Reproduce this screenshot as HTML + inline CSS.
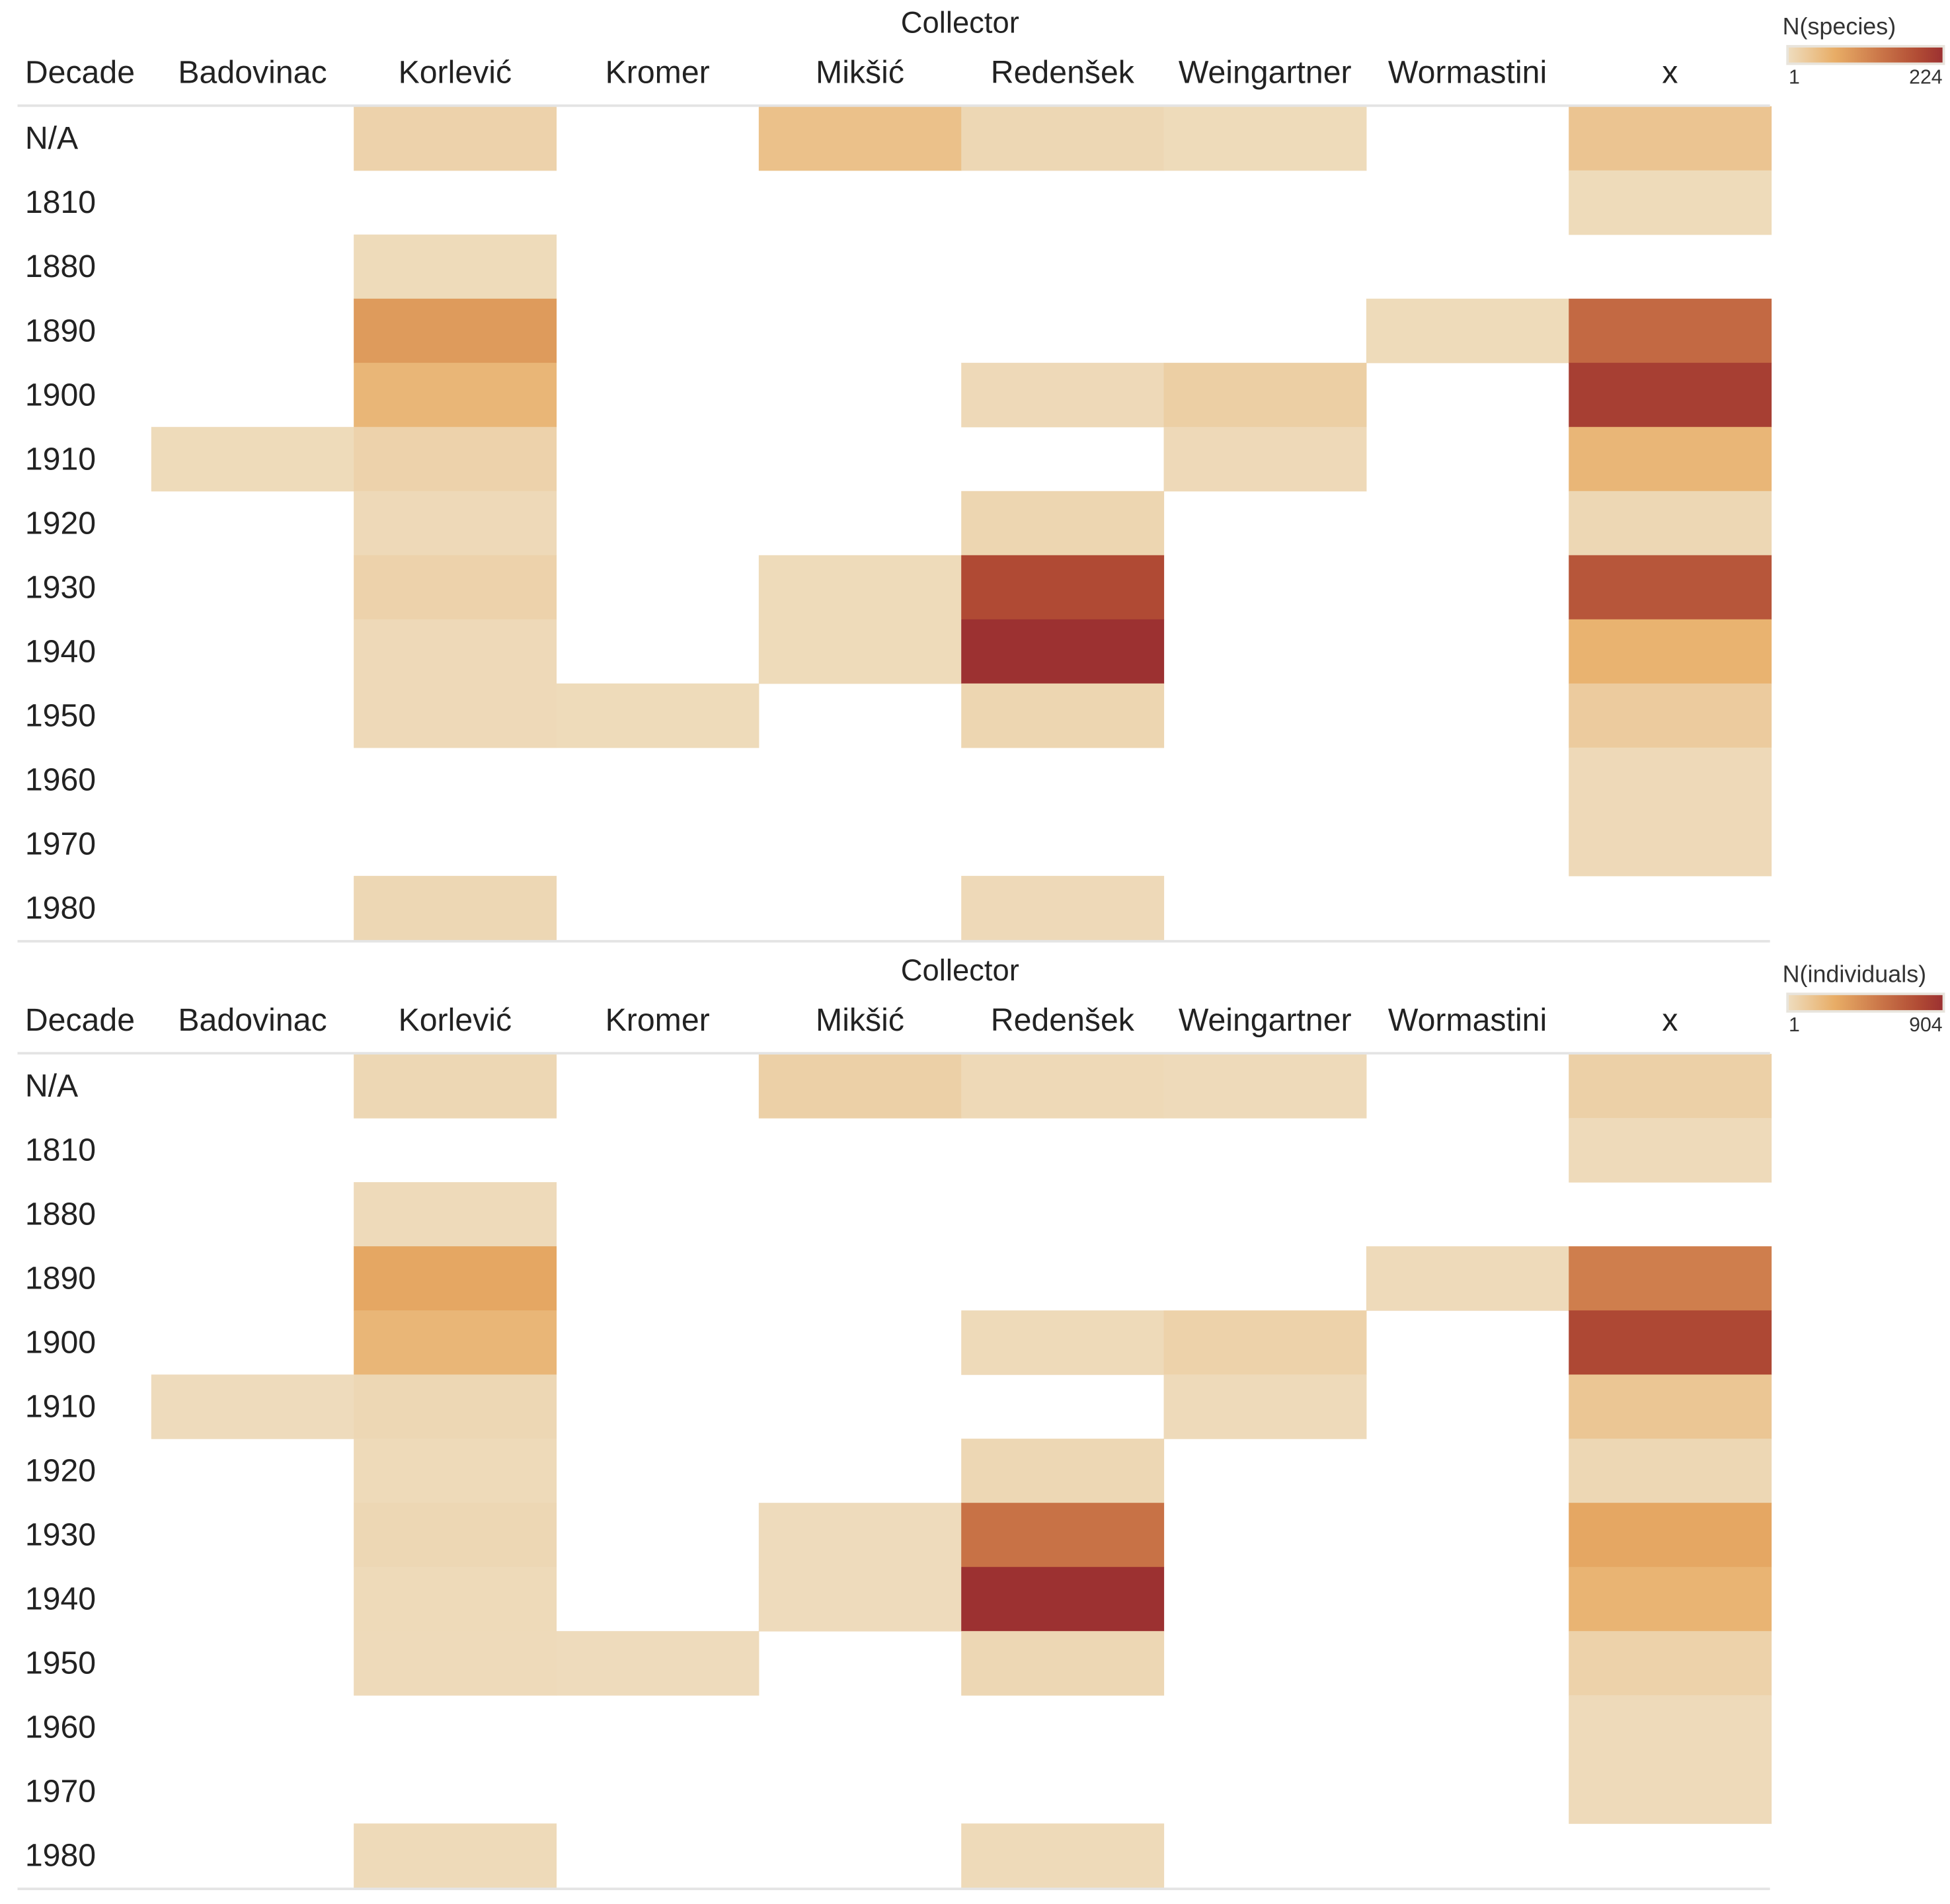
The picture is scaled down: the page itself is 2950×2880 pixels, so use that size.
<!DOCTYPE html>
<html><head><meta charset="utf-8">
<style>
html,body{margin:0;padding:0;background:#fff;}
svg{display:block;font-family:"Liberation Sans",Arial,sans-serif;}
</style></head>
<body>
<svg id="chart" width="2950" height="2880" viewBox="0 0 1560 1523" preserveAspectRatio="none" xmlns="http://www.w3.org/2000/svg">
<defs>
<linearGradient id="lg" x1="0" x2="1" y1="0" y2="0">
<stop offset="0" stop-color="#eedcbd"/>
<stop offset="0.3" stop-color="#e8ad66"/>
<stop offset="0.6" stop-color="#ca7548"/>
<stop offset="0.85" stop-color="#b04a34"/>
<stop offset="1" stop-color="#9c3131"/>
</linearGradient>
</defs>
</svg>
<script>
const collectors = ["Badovinac","Korlević","Kromer","Mikšić","Redenšek","Weingartner","Wormastini","x"];
const decades = ["N/A","1810","1880","1890","1900","1910","1920","1930","1940","1950","1960","1970","1980"];
// rows = decades, cols = collectors; 0 = no data
const speciesValues = [
 [0,15,0,40,8,3,0,35],
 [0,0,0,0,0,0,0,3],
 [0,3,0,0,0,0,0,0],
 [0,90,0,0,0,0,3,150],
 [0,55,0,0,5,20,0,205],
 [3,15,0,0,0,5,0,55],
 [0,5,0,0,10,0,0,8],
 [0,15,0,3,190,0,0,175],
 [0,5,0,3,224,0,0,60],
 [0,5,3,0,10,0,0,25],
 [0,0,0,0,0,0,0,5],
 [0,0,0,0,0,0,0,5],
 [0,8,0,0,5,0,0,0]
];
const individualValues = [
 [0,30,0,70,20,10,0,70],
 [0,0,0,0,0,0,0,10],
 [0,10,0,0,0,0,0,0],
 [0,300,0,0,0,0,10,500],
 [0,220,0,0,15,60,0,780],
 [5,30,0,0,0,10,0,130],
 [0,15,0,0,30,0,0,30],
 [0,30,0,5,560,0,0,300],
 [0,15,0,5,904,0,0,230],
 [0,10,5,0,30,0,0,60],
 [0,0,0,0,0,0,0,10],
 [0,0,0,0,0,0,0,10],
 [0,15,0,0,15,0,0,0]
];
const legendTitles = ["N(species)","N(individuals)"];
const legendMax = [224,904];

const NS="http://www.w3.org/2000/svg";
const svg=document.getElementById('chart');
const stops=[[0,[0xee,0xdc,0xbd]],[0.3,[0xe8,0xad,0x66]],[0.6,[0xca,0x75,0x48]],[0.85,[0xb0,0x4a,0x34]],[1,[0x9c,0x31,0x31]]];
function colorScale(v,max){
  let t=Math.max(0,Math.min(1,(v-1)/(max-1)));
  for(let i=1;i<stops.length;i++){
    if(t<=stops[i][0]){
      const a=stops[i-1],b=stops[i];const f=(t-a[0])/(b[0]-a[0]);
      const c=a[1].map((x,k)=>Math.round(x+(b[1][k]-x)*f));
      return `rgb(${c[0]},${c[1]},${c[2]})`;
    }
  }
  return 'rgb(156,49,49)';
}
const colX0=121, colW=162, rowH=51.3;
function xPos(ci){return colX0+ci*colW;}
function mk(tag,attrs,parent){const e=document.createElementNS(NS,tag);for(const k in attrs)e.setAttribute(k,attrs[k]);(parent||svg).appendChild(e);return e;}
function txt(parent,x,y,s,size,anchor,fill){const t=mk('text',{x:x,y:y,'font-size':size,'text-anchor':anchor||'start','dominant-baseline':'central',fill:fill||'#222'},parent);t.textContent=s;return t;}

function panel(idx,top,values){
  const g=mk('g',{});
  
  
  const headerLine=top+85;
  const ct=txt(g,768,top+18,'Collector',24,'middle');
  
  
  const dt=txt(g,20,top+58,'Decade',25.5,'start');
  
  
  collectors.forEach((c,ci)=>{
    const t=txt(g,xPos(ci)+colW/2,top+58,c,25.5,'middle');
    
    
  });
  // cells
  values.forEach((row,ri)=>{
    row.forEach((v,ci)=>{
      if(!v) return;
      const r=mk('rect',{x:xPos(ci),y:headerLine+ri*rowH,width:colW+0.3,height:rowH+0.3,fill:colorScale(v,legendMax[idx])},g);
      
      
    });
  });
  decades.forEach((d,ri)=>{
    const t=txt(g,20,headerLine+ri*rowH+rowH/2,d,25.5,'start');
    
    
  });
  const l1=mk('rect',{x:14,y:headerLine-1.5,width:1402,height:2,fill:'#e4e4e4'},g);
  
  
  const l2=mk('rect',{x:14,y:headerLine+decades.length*rowH,width:1402,height:2,fill:'#e4e4e4'},g);
  
  
  // legend
  const lg=mk('g',{},g);
  
  
  txt(lg,1426,top+21,legendTitles[idx],19,'start','#333');
  mk('rect',{x:1429,y:top+36,width:127,height:16,fill:'#e8e4dc'},lg);
  const bar=mk('rect',{x:1431,y:top+38,width:123,height:12,fill:'url(#lg)'},lg);
  
  
  txt(lg,1431,top+62,'1',16,'start','#333');
  txt(lg,1554,top+62,String(legendMax[idx]),16,'end','#333');
}
panel(0,0,speciesValues);
panel(1,758,individualValues);
</script>
</body></html>
